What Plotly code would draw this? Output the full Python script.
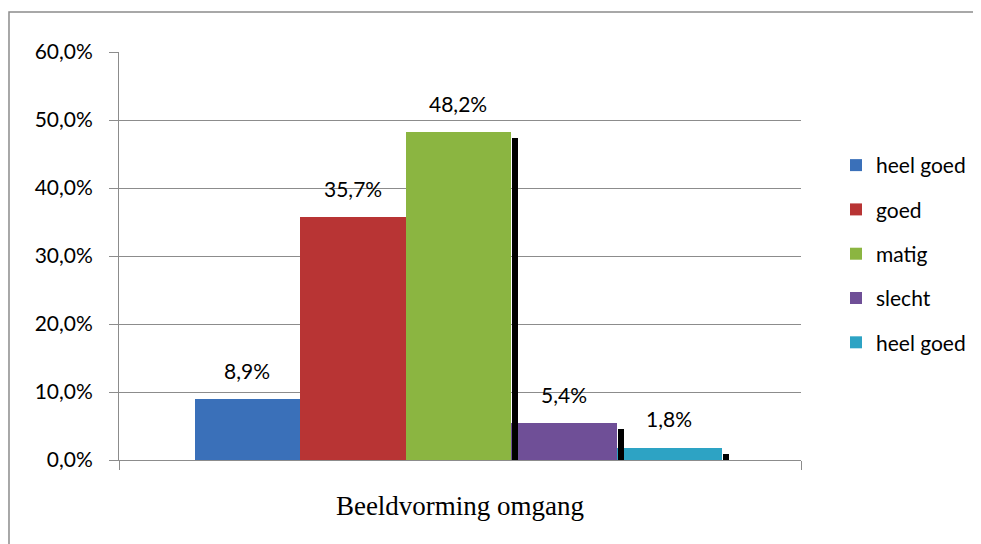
import plotly.graph_objects as go

# ---- data ----
category = ["Beeldvorming omgang"]
series_names = ["heel goed", "goed", "matig", "slecht", "heel goed"]
values = [8.9, 35.7, 48.2, 5.4, 1.8]          # percent
y_tick_vals = [0, 10, 20, 30, 40, 50, 60]
y_tick_text = ["0,0%", "10,0%", "20,0%", "30,0%", "40,0%", "50,0%", "60,0%"]

# ---- style ----
colors = ["#3a70b9", "#b83434", "#8bb541", "#6f4f97", "#2da3c4"]
BAR_W = 0.1547          # category units
GROUP_START = -0.389
PX_X = 1 / 682.0        # one pixel in category units
PX_Y = 60 / 408.0       # one pixel in percent units
SANS = "Lato"
GRAY = "#8c8c8c"

fig = go.Figure()

def bar_trace(i):
    return go.Bar(
        x=category, y=[values[i]], name=series_names[i],
        offset=GROUP_START + i * BAR_W, width=BAR_W,
        marker=dict(color=colors[i], line=dict(width=0)),
        legendgroup=f"g{i}", showlegend=True,
    )

def shadow_trace(i):
    return go.Bar(
        x=category, y=[max(values[i] - 6 * PX_Y, 0)],
        offset=GROUP_START + (i + 1) * BAR_W + 1 * PX_X, width=6 * PX_X,
        marker=dict(color="black", line=dict(width=0)),
        showlegend=False, hoverinfo="skip",
    )

# draw order reproduces which shadows sit behind / in front of neighbouring bars
for i in (0, 1):
    fig.add_trace(shadow_trace(i))
for i in range(len(values)):
    fig.add_trace(bar_trace(i))
for i in (2, 3, 4):
    fig.add_trace(shadow_trace(i))

for i, v in enumerate(values):
    fig.add_annotation(
        x=GROUP_START + (i + 0.5) * BAR_W, y=v, xref="x", yref="y",
        text=f"{v:.1f}%".replace(".", ","), showarrow=False,
        yanchor="middle", yshift=29,
        font=dict(family=SANS, size=21, color="#000000"),
    )

fig.add_shape(type="rect", xref="paper", yref="paper",
              x0=-0.1613, x1=1.3, y0=-0.3, y1=1.098,
              line=dict(color=GRAY, width=1.5), layer="below")

fig.update_layout(
    width=981, height=544,
    margin=dict(l=111, r=188, t=44, b=92),
    barmode="overlay",
    plot_bgcolor="white", paper_bgcolor="white",
    font=dict(family=SANS, size=21, color="#000000"),
    legend=dict(
        x=1.0513, xanchor="left", y=0.505, yanchor="middle",
        traceorder="grouped", tracegroupgap=14,
        font=dict(family=SANS, size=21, color="#000000"),
        itemwidth=30, bgcolor="rgba(0,0,0,0)",
    ),
    xaxis=dict(
        type="category", range=[-0.5, 0.5],
        showline=True, linecolor=GRAY, linewidth=1,
        ticks="outside", tickson="boundaries", ticklen=9, tickcolor=GRAY,
        showgrid=False,
        tickfont=dict(family="Liberation Serif", size=27, color="#000000"),
        ticklabelstandoff=22,
    ),
    yaxis=dict(
        range=[0, 60], tickvals=y_tick_vals, ticktext=y_tick_text,
        showline=True, linecolor=GRAY, linewidth=1,
        ticks="outside", ticklen=9, tickcolor=GRAY,
        showgrid=True, gridcolor=GRAY, gridwidth=1, zeroline=False,
        tickfont=dict(family=SANS, size=21, color="#000000"),
        ticklabelstandoff=12,
    ),
    bargap=0,
)

fig.write_html("out.html")
